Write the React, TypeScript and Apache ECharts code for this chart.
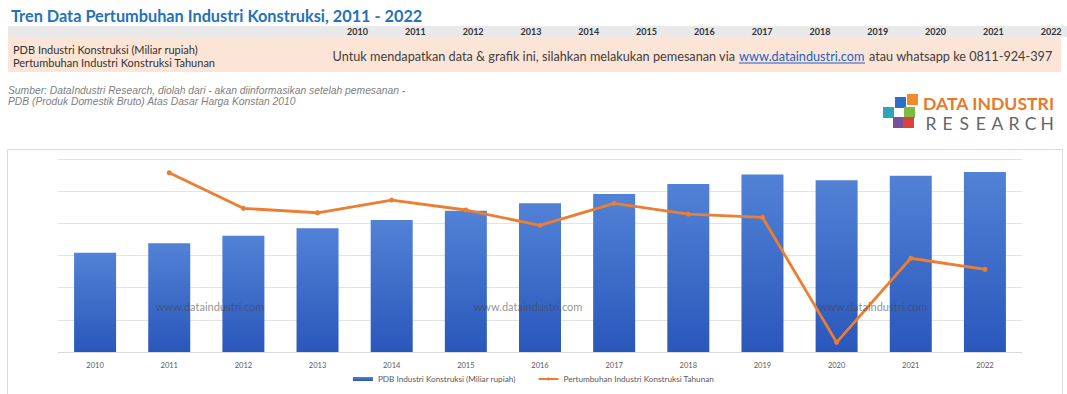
import React, { useEffect, useRef } from "react";
import * as echarts from "echarts";

const titleText = "Tren Data Pertumbuhan Industri Konstruksi, 2011 - 2022";
const years = ["2010", "2011", "2012", "2013", "2014", "2015", "2016", "2017", "2018", "2019", "2020", "2021", "2022"];
const seriesNames = ["PDB Industri Konstruksi (Miliar rupiah)", "Pertumbuhan Industri Konstruksi Tahunan"];
const pdbValues = [617500, 676000, 723000, 769000, 821000, 879000, 925000, 983000, 1045000, 1103000, 1068000, 1096000, 1119000];
const growthValues = [null, 9.0, 6.42, 6.1, 7.02, 6.3, 5.19, 6.78, 6.0, 5.77, -3.3, 2.8, 2.0];
const noticeParts = [
  "Untuk mendapatkan data & grafik ini, silahkan melakukan pemesanan via",
  "www.dataindustri.com",
  "atau whatsapp ke 0811-924-397",
];
const sourceLines = [
  "Sumber: DataIndustri Research, diolah dari - akan diinformasikan setelah pemesanan -",
  "PDB (Produk Domestik Bruto) Atas Dasar Harga Konstan 2010",
];
const logoTop = "DATA INDUSTRI";
const logoBottom = "RESEARCH";
const watermarkText = "www.dataindustri.com";

export default function App() {
  const ref = useRef<HTMLDivElement>(null);
  useEffect(() => {
    document.body.style.margin = "0";
    const chart = echarts.init(ref.current!, null, { renderer: "svg" });

    const graphics: any[] = [];
    // chart frame
    graphics.push({ type: "rect", z: -10, shape: { x: 7.5, y: 149.5, width: 1055, height: 260 }, style: { fill: "#fff", stroke: "#D9D9D9", lineWidth: 1 } });
    // header bands
    graphics.push({ type: "rect", shape: { x: 8, y: 26, width: 1059, height: 11 }, style: { fill: "#E9E9E9" } });
    graphics.push({ type: "rect", shape: { x: 8, y: 37, width: 1053, height: 35 }, style: { fill: "#FCE4D6" } });
    graphics.push({ type: "text", x: 11, y: 15.5, style: { text: titleText, font: "bold 16.3px Lato", fill: "#2472B8", textVerticalAlign: "middle" } });
    years.forEach((y, i) => {
      graphics.push({ type: "text", x: 368 + 57.8 * i, y: 31.5, style: { text: y, font: "bold 9px Lato", fill: "#333", textAlign: "right", textVerticalAlign: "middle" } });
    });
    seriesNames.forEach((s, i) => {
      graphics.push({ type: "text", x: 13, y: 49 + 13.5 * i, style: { text: s, font: "11px Lato", fill: "#333", textVerticalAlign: "middle" } });
    });
    graphics.push({ type: "text", x: 735, y: 56, style: { text: noticeParts[0], font: "12.7px Lato", fill: "#404040", textAlign: "right", textVerticalAlign: "middle" } });
    graphics.push({ type: "text", x: 739, y: 56, style: { text: noticeParts[1], font: "12.7px Lato", fill: "#1F5FBF", textAlign: "left", textVerticalAlign: "middle" } });
    graphics.push({ type: "line", shape: { x1: 739, y1: 63, x2: 865, y2: 63 }, style: { stroke: "#1F5FBF", lineWidth: 1 } });
    graphics.push({ type: "text", x: 869, y: 56, style: { text: noticeParts[2], font: "12.7px Lato", fill: "#404040", textAlign: "left", textVerticalAlign: "middle" } });
    sourceLines.forEach((s, i) => {
      graphics.push({ type: "text", x: 8, y: 90 + 11 * i, style: { text: s, font: "italic 10.3px 'Liberation Sans'", fill: "#808080", textVerticalAlign: "middle" } });
    });
    // logo icon
    const sq = [
      { x: 907, y: 94, c: "#F08A2C" },
      { x: 895, y: 97, c: "#2F6FC4" },
      { x: 904, y: 107, c: "#7DBB3E" },
      { x: 883, y: 107, c: "#2CA6B8" },
      { x: 893, y: 117, c: "#7A4FA0" },
      { x: 903, y: 117, c: "#D8423A" },
    ];
    sq.forEach((s) => graphics.push({ type: "rect", shape: { x: s.x, y: s.y, width: 11, height: 11 }, style: { fill: s.c } }));
    graphics.push({ type: "text", x: 923, y: 103.5, style: { text: logoTop, font: "bold 17.6px Lato", fill: "#E8792B", textVerticalAlign: "middle" } });
    logoBottom.split("").forEach((ch, i) => {
      graphics.push({ type: "text", x: 931 + 16.6 * i, y: 123, style: { text: ch, font: "17.5px Lato", fill: "#666", textAlign: "center", textVerticalAlign: "middle" } });
    });
    // chart watermark texts
    [210, 528, 873].forEach((x) => {
      graphics.push({ type: "text", x, y: 306, z: 50, style: { text: watermarkText, font: "11px Lato", fill: "rgba(70,70,70,0.6)", textAlign: "center", textVerticalAlign: "middle" } });
    });

    chart.setOption({
      animation: false,
      grid: { left: 58, right: 45, top: 159, bottom: 42 },
      legend: {
        bottom: 6,
        left: "center",
        itemGap: 22,
        itemWidth: 20,
        itemHeight: 4,
        textStyle: { fontSize: 8.2, color: "#595959", fontFamily: "Lato" },
        data: [
          { name: seriesNames[0], icon: "rect" },
          { name: seriesNames[1] },
        ],
      },
      xAxis: {
        type: "category",
        data: years,
        axisLine: { lineStyle: { color: "#D9D9D9" } },
        axisTick: { show: false },
        axisLabel: { fontSize: 7.5, color: "#595959", fontFamily: "Lato", margin: 9 },
      },
      yAxis: [
        {
          type: "value",
          min: 0,
          max: 1200000,
          interval: 200000,
          axisLabel: { show: false },
          axisLine: { show: false },
          axisTick: { show: false },
          splitLine: { lineStyle: { color: "#E3E3E3" } },
        },
        { type: "value", min: -4, max: 10, show: false, splitLine: { show: false } },
      ],
      series: [
        {
          name: seriesNames[0],
          type: "bar",
          data: pdbValues,
          barWidth: 42,
          itemStyle: {
            color: new echarts.graphic.LinearGradient(0, 0, 0, 1, [
              { offset: 0, color: "#5282D6" },
              { offset: 1, color: "#2A57BB" },
            ]),
          },
        },
        {
          name: seriesNames[1],
          type: "line",
          yAxisIndex: 1,
          data: growthValues,
          connectNulls: false,
          symbol: "circle",
          symbolSize: 5,
          lineStyle: { color: "#ED7D31", width: 2.8 },
          itemStyle: { color: "#ED7D31" },
          z: 5,
        },
      ],
      graphic: graphics,
    });
    return () => chart.dispose();
  }, []);
  return <div ref={ref} style={{ width: 1067, height: 394 }} />;
}
